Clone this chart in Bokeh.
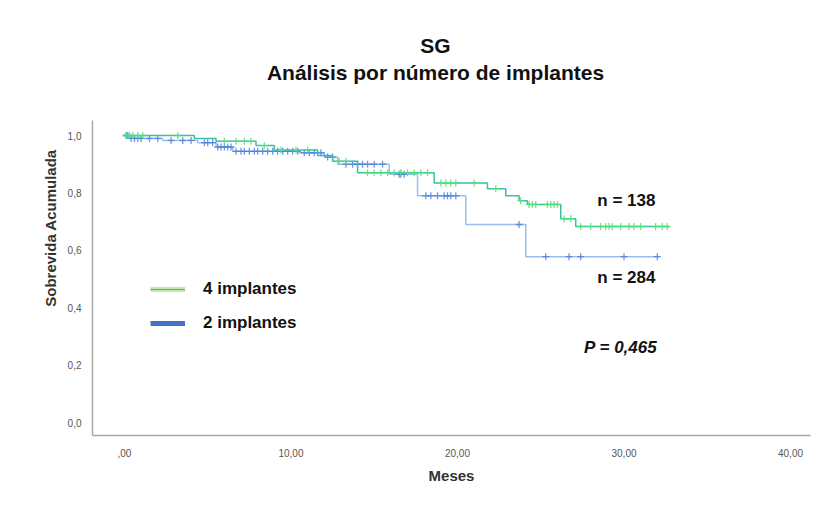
import numpy as np
from bokeh.plotting import figure
from bokeh.models import Range1d, Label, Legend, LegendItem
from bokeh.embed import file_html
from bokeh.resources import INLINE

# ---- data ----
# 4 implantes (n = 138)
g_times = [0.0, 4.2, 5.5, 7.9, 9.0, 11.6, 12.5, 14.0, 18.6, 21.8, 22.9, 23.7, 24.2, 26.2, 27.1]
g_surv = [1.0, 0.99, 0.98, 0.965, 0.95, 0.93, 0.91, 0.87, 0.835, 0.815, 0.79, 0.773, 0.76, 0.71, 0.683]
g_end = 32.7
g_cens = [0.1, 0.3, 0.5, 0.8, 1.1, 3.2, 6.0, 6.7, 7.2, 7.6, 8.4, 9.4, 10.3, 11.0, 12.9, 13.3,
          14.6, 15.0, 15.4, 15.8, 16.2, 16.6, 17.0, 17.4, 17.8, 18.2, 19.0, 19.3, 19.6, 19.9,
          21.0, 22.3, 23.8, 24.3, 24.5, 24.7, 25.4, 25.6, 25.8, 26.0, 26.4, 26.8,
          27.4, 28.0, 28.6, 28.9, 29.1, 29.3, 29.8, 30.3, 30.6, 31.0, 31.9, 32.3, 32.6]

# 2 implantes (n = 284)
b_times = [0.0, 0.3, 2.3, 4.4, 5.5, 6.5, 10.5, 12.0, 12.8, 15.9, 17.6, 20.5, 24.1]
b_surv = [1.0, 0.99, 0.983, 0.975, 0.96, 0.945, 0.94, 0.925, 0.90, 0.865, 0.79, 0.69, 0.578]
b_end = 32.1
b_cens = [0.1, 0.2, 0.4, 0.6, 0.8, 1.0, 1.5, 2.0, 2.8, 3.5, 4.0, 4.8, 5.0, 5.3, 5.6, 5.8,
          6.0, 6.2, 6.4, 6.7, 7.0, 7.2, 7.5, 7.8, 8.0, 8.3, 8.6, 8.9, 9.2, 9.5, 9.8, 10.1,
          10.4, 10.8, 11.1, 11.4, 11.8, 12.2, 12.5, 13.3, 13.7, 14.0, 14.3, 14.6, 15.0, 15.5,
          16.5, 16.6, 16.8, 18.1, 18.4, 18.8, 19.2, 19.4, 19.6, 19.9, 23.7,
          25.3, 26.7, 27.4, 30.0, 32.0]

y_ticks = [0.0, 0.2, 0.4, 0.6, 0.8, 1.0]
y_tick_labels = ["0,0", "0,2", "0,4", "0,6", "0,8", "1,0"]
x_ticks = [0, 10, 20, 30, 40]
x_tick_labels = [",00", "10,00", "20,00", "30,00", "40,00"]

FONT = "Liberation Sans"

G_LINE = "#38c0a0"
G_MARK = "#55e07a"
B_LINE = "#9bbdf0"
B_MARK = "#4a7cdc"


def surv_at(times, surv, t):
    idx = np.searchsorted(np.array(times), np.array(t), side="right") - 1
    return np.array(surv)[idx]


# frame spans the title area too; the y axis line is bounded to the plot region
p = figure(width=824, height=506, output_backend="svg", toolbar_location=None,
           x_range=Range1d(-1.92, 41.2), y_range=Range1d(-0.045, 1.4007),
           min_border_left=92, min_border_right=14, min_border_top=20,
           min_border_bottom=71)
p.xgrid.visible = False
p.ygrid.visible = False
p.outline_line_color = None
p.background_fill_color = "white"
p.border_fill_color = "white"

# axes
for ax in (p.xaxis[0], p.yaxis[0]):
    ax.axis_line_color = "#a8a8a8"
    ax.axis_line_width = 1.5
    ax.major_tick_line_color = None
    ax.minor_tick_line_color = None
    ax.major_label_text_font = FONT
    ax.major_label_text_font_size = "10px"
    ax.major_label_text_color = "#555555"
    ax.axis_label_text_font = FONT
    ax.axis_label_text_font_style = "bold"
    ax.axis_label_text_color = "#333333"

p.yaxis.ticker = y_ticks
p.yaxis.bounds = (-0.045, 1.052)
p.yaxis.major_label_overrides = {t: l for t, l in zip(y_ticks, y_tick_labels)}
p.yaxis.axis_label = "Sobrevida Acumulada"
p.yaxis.axis_label_text_font_size = "15px"
p.yaxis.major_label_standoff = 5
p.yaxis.axis_label_standoff = 6

p.xaxis.ticker = x_ticks
p.xaxis.major_label_overrides = {t: l for t, l in zip(x_ticks, x_tick_labels)}
p.xaxis.axis_label = "Meses"
p.xaxis.axis_label_text_font_size = "15px"
p.xaxis.major_label_standoff = 7
p.xaxis.axis_label_standoff = 7

# curves
p.step(x=b_times + [b_end], y=b_surv + [b_surv[-1]], mode="after",
       line_color=B_LINE, line_width=1.5)
p.scatter(x=b_cens, y=surv_at(b_times, b_surv, b_cens), marker="cross",
          size=7, line_color=B_MARK, line_width=1.3, line_alpha=0.8)

p.step(x=g_times + [g_end], y=g_surv + [g_surv[-1]], mode="after",
       line_color=G_LINE, line_width=1.5)
p.scatter(x=g_cens, y=surv_at(g_times, g_surv, g_cens), marker="cross",
          size=7, line_color=G_MARK, line_width=1.3, line_alpha=0.85)

# legend (swatches only, no data)
g_sw1 = p.line(x=[np.nan], y=[np.nan], line_color="#c4e8b4", line_width=5)
g_sw2 = p.line(x=[np.nan], y=[np.nan], line_color="#5fa3a0", line_width=1.2)
b_sw = p.line(x=[np.nan], y=[np.nan], line_color="#4472c4", line_width=5)
legend = Legend(items=[LegendItem(label="4 implantes", renderers=[g_sw1, g_sw2]),
                       LegendItem(label="2 implantes", renderers=[b_sw])],
                location=(58, 102), orientation="vertical",
                glyph_width=35, glyph_height=20, label_height=20,
                label_standoff=18, spacing=14, padding=0, margin=0,
                border_line_color=None, background_fill_alpha=0,
                label_text_font=FONT, label_text_font_size="17px",
                label_text_font_style="bold", label_text_color="#111111")
p.add_layout(legend, "center")

# texts
def add_label(x, y, text, size, style="bold", align="center"):
    p.add_layout(Label(x=x, y=y, text=text, text_font=FONT, text_font_size=size,
                       text_font_style=style, text_align=align,
                       text_baseline="middle", text_color="#111111"))

add_label(18.68, 1.314, "SG", "21px")
add_label(18.68, 1.220, "Análisis por número de implantes", "21px")
add_label(28.4, 0.774, "n = 138", "17px", align="left")
add_label(28.4, 0.505, "n = 284", "17px", align="left")
add_label(27.6, 0.261, "P = 0,465", "17px", style="bold italic", align="left")

open("out.html", "w").write(file_html(p, INLINE))
